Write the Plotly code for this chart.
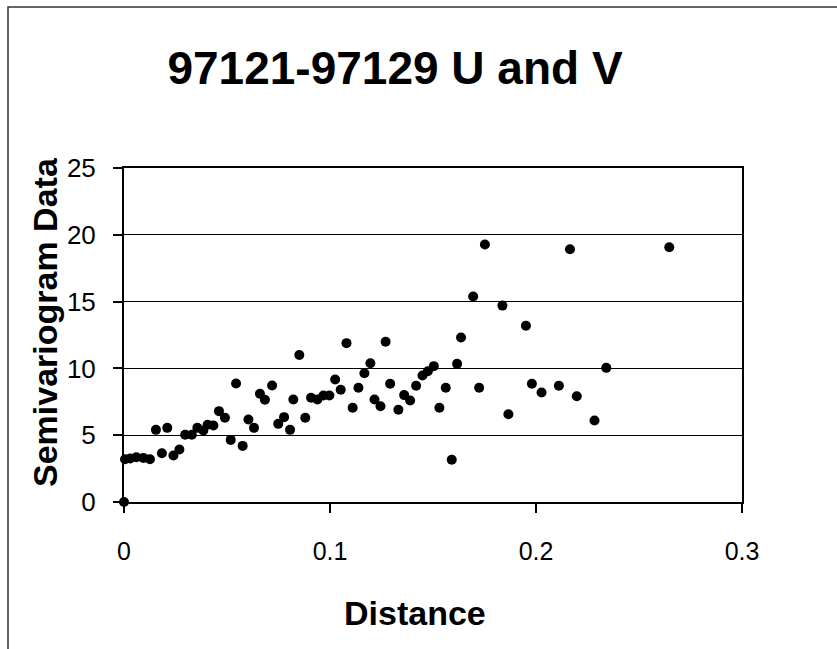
import plotly.graph_objects as go

# Data
distance = [0, 0.0005, 0.003, 0.006, 0.0094, 0.0126, 0.0155, 0.0184, 0.021, 0.024,
            0.0269, 0.0297, 0.0329, 0.0356, 0.0385, 0.0406, 0.0434, 0.0461, 0.049, 0.0518,
            0.0544, 0.0576, 0.0604, 0.0631, 0.066, 0.0684, 0.0719, 0.0749, 0.0777, 0.0806,
            0.0822, 0.0851, 0.088, 0.0908, 0.0939, 0.0968, 0.0997, 0.1025, 0.1052, 0.108,
            0.111, 0.1138, 0.1167, 0.1196, 0.1216, 0.1245, 0.127, 0.1292, 0.1332, 0.136,
            0.1389, 0.1418, 0.1449, 0.1475, 0.1504, 0.1531, 0.1562, 0.1591, 0.1617, 0.1636,
            0.1695, 0.1724, 0.1752, 0.1837, 0.1866, 0.1951, 0.198, 0.2027, 0.2111, 0.2165,
            0.2198, 0.2284, 0.2341, 0.2647]
semivariogram = [0, 3.2, 3.25, 3.35, 3.3, 3.2, 5.4, 3.65, 5.55, 3.48,
                 3.93, 5.03, 5.03, 5.55, 5.35, 5.78, 5.73, 6.8, 6.3, 4.65,
                 8.87, 4.2, 6.17, 5.55, 8.1, 7.65, 8.72, 5.85, 6.35, 5.4,
                 7.67, 11.0, 6.3, 7.8, 7.67, 7.97, 7.97, 9.17, 8.4, 11.89,
                 7.05, 8.55, 9.64, 10.39, 7.67, 7.17, 12.0, 8.85, 6.9, 8.0,
                 7.6, 8.7, 9.47, 9.79, 10.17, 7.05, 8.55, 3.16, 10.34, 12.31,
                 15.38, 8.55, 19.27, 14.7, 6.57, 13.19, 8.85, 8.2, 8.7, 18.92,
                 7.92, 6.1, 10.04, 19.07]

x_ticks = [0, 0.1, 0.2, 0.3]
x_tick_labels = ["0", "0.1", "0.2", "0.3"]
y_ticks = [0, 5, 10, 15, 20, 25]

title_text = "97121-97129 U and V"
x_title = "Distance"
y_title = "Semivariogram Data"

FONT = "Liberation Sans, Arial, sans-serif"

fig = go.Figure()
fig.add_trace(go.Scatter(
    x=distance, y=semivariogram, mode="markers",
    marker=dict(color="black", size=10),
    cliponaxis=False, showlegend=False,
))

L, R, T, B = 124, 95, 168, 147
W, H = 837, 649
pw, ph = W - L - R, H - T - B

def px(xp):
    return (xp - L) / pw

def py(yp):
    return (H - B - yp) / ph

fig.update_layout(
    width=W, height=H,
    margin=dict(l=L, r=R, t=T, b=B, autoexpand=False),
    paper_bgcolor="white", plot_bgcolor="white",
    font=dict(family=FONT, color="black"),
    title=dict(text="<b>" + title_text + "</b>", x=395 / W, xanchor="center",
               y=1 - 68 / H, yanchor="middle",
               font=dict(size=46, family=FONT, color="black")),
    xaxis=dict(range=[0, 0.3], tickvals=x_ticks, ticktext=x_tick_labels,
               showgrid=False, zeroline=False, showline=True, linecolor="black",
               linewidth=1.5, mirror=True, ticks="outside", ticklen=9,
               tickwidth=1.5, tickcolor="black", ticklabelstandoff=17,
               tickfont=dict(size=25, family=FONT, color="black")),
    yaxis=dict(range=[0, 25], tickvals=y_ticks,
               showgrid=True, gridcolor="black", gridwidth=1,
               zeroline=False, showline=True, linecolor="black",
               linewidth=2, mirror=True, ticks="outside", ticklen=9,
               tickwidth=1.5, tickcolor="black", ticklabelstandoff=12,
               tickfont=dict(size=26, family=FONT, color="black")),
    annotations=[
        dict(text="<b>" + x_title + "</b>", xref="paper", yref="paper",
             x=px(415), y=py(613), xanchor="center", yanchor="middle",
             showarrow=False, font=dict(size=34, family=FONT, color="black")),
        dict(text="<b>" + y_title + "</b>", xref="paper", yref="paper",
             x=px(45), y=py(322), xanchor="center", yanchor="middle",
             textangle=-90, showarrow=False,
             font=dict(size=34, family=FONT, color="black")),
    ],
    shapes=[
        dict(type="rect", xref="paper", yref="paper",
             x0=px(8), x1=px(845), y0=py(655), y1=py(7),
             line=dict(color="#333333", width=1.5), fillcolor="rgba(0,0,0,0)",
             layer="below"),
    ],
)

fig.write_html("out.html")
